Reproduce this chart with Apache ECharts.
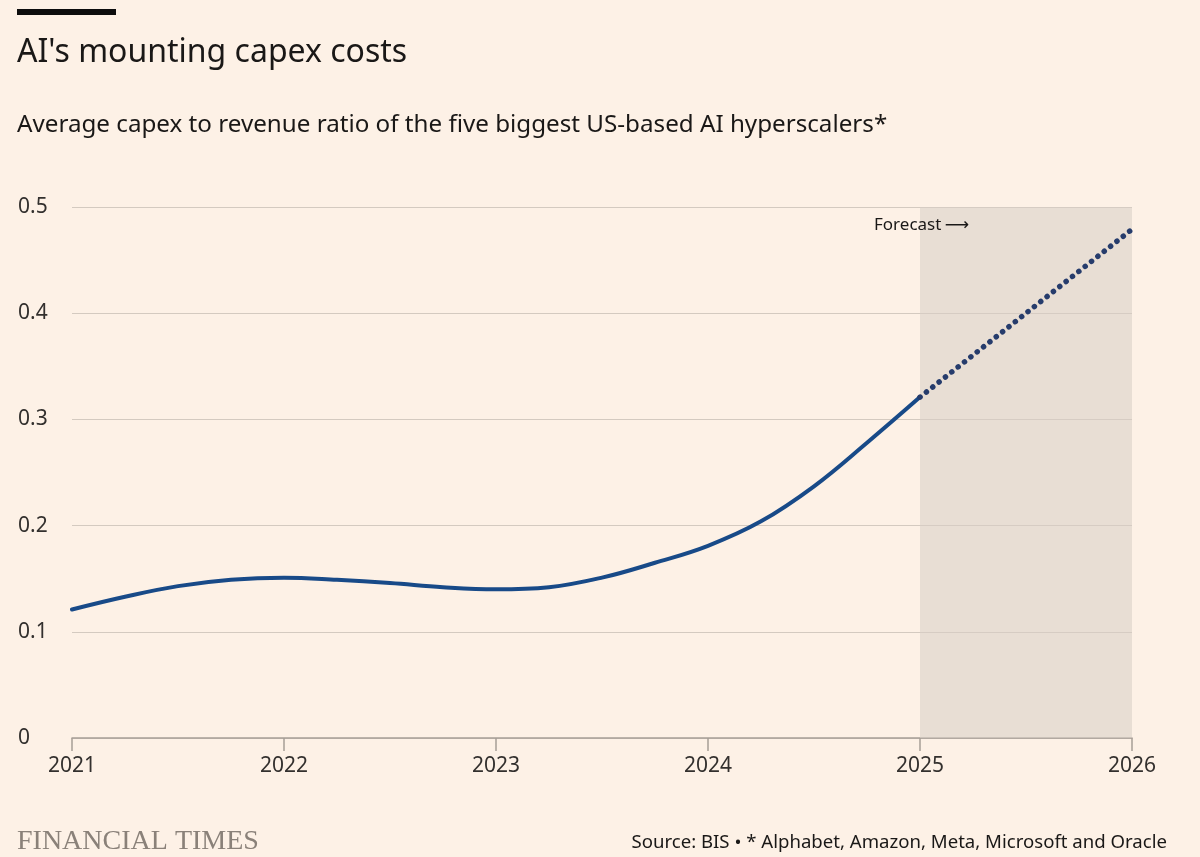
<!DOCTYPE html>
<html>
<head>
<meta charset="utf-8">
<script src="https://cdn.jsdelivr.net/npm/echarts@6/dist/echarts.min.js"></script>
<style>
  html, body { margin: 0; padding: 0; background: #fdf1e6; }
  #chart { width: 1200px; height: 857px; }
</style>
</head>
<body>
<div id="chart"></div>
<script>
// capex / revenue ratio (quarterly steps)
var years = [2021, 2021.25, 2021.5, 2021.75, 2022, 2022.25, 2022.5, 2022.75, 2023,
             2023.25, 2023.5, 2023.75, 2024, 2024.25, 2024.5, 2024.75, 2025]
var ratio = [0.121, 0.133, 0.143, 0.149, 0.151, 0.149, 0.146, 0.142, 0.140,
             0.142, 0.151, 0.165, 0.181, 0.204, 0.237, 0.278, 0.321]
var forecastYears = [2025, 2026]
var forecastRatio = [0.321, 0.479]
var yTicks = [0, 0.1, 0.2, 0.3, 0.4, 0.5]

var font = '"Noto Sans", sans-serif'
var ink = '#33302e'

var myChart = echarts.init(document.getElementById('chart'))

var option = {
  backgroundColor: '#fdf1e6',
  animation: false,
  grid: { left: 72, right: 68, top: 207, bottom: 119 },
  xAxis: {
    type: 'value',
    min: 2021, max: 2026, interval: 1,
    axisLine: { show: true, lineStyle: { color: '#a79f97', width: 1.5 } },
    axisTick: { show: true, length: 13, lineStyle: { color: '#a79f97', width: 1.5 } },
    splitLine: { show: false },
    axisLabel: { color: ink, fontSize: 21, fontFamily: font, margin: 18, formatter: function (v) { return String(v) } }
  },
  yAxis: {
    type: 'value',
    min: 0, max: 0.5, interval: 0.1,
    axisLine: { show: false },
    axisTick: { show: false },
    splitLine: { lineStyle: { color: '#d4cac0', width: 1 } },
    axisLabel: {
      color: ink, fontSize: 21, fontFamily: font, align: 'left', margin: 54,
      formatter: function (v) { return yTicks.indexOf(Math.round(v * 10) / 10) >= 0 ? (v === 0 ? '0' : v.toFixed(1)) : '' }
    }
  },
  series: [
    {
      type: 'line',
      data: years.map(function (y, i) { return [y, ratio[i]] }),
      smooth: 0.4,
      showSymbol: false,
      lineStyle: { color: '#184a88', width: 4, cap: 'round' },
      markArea: {
        silent: true,
        itemStyle: { color: 'rgba(215,205,196,0.55)' },
        data: [[{ xAxis: 2025, yAxis: 0 }, { xAxis: 2026, yAxis: 0.5 }]]
      },
      z: 3
    },
    {
      type: 'line',
      data: forecastYears.map(function (y, i) { return [y, forecastRatio[i]] }),
      showSymbol: false,
      lineStyle: { color: '#263c6c', width: 5.5, type: [0.1, 8], cap: 'round' },
      z: 3
    }
  ],
  graphic: {
    elements: [
      { type: 'rect', left: 17, top: 9, shape: { width: 99, height: 6 }, style: { fill: '#0d0d0d' } },
      { type: 'text', left: 17, top: 37, style: { text: "AI's mounting capex costs", fill: '#1a1817', font: '32px ' + font } },
      { type: 'text', left: 17, top: 113, style: { text: 'Average capex to revenue ratio of the five biggest US-based AI hyperscalers*', fill: '#1a1817', font: '24.2px ' + font } },
      {
        type: 'text', left: 874, top: 217, z: 100,
        style: {
          text: '{t|Forecast} {a|\u27F6}',
          rich: {
            t: { fill: '#1a1817', font: '17px ' + font },
            a: { fill: '#1a1817', font: '17px "DejaVu Sans", sans-serif' }
          }
        }
      },
      { type: 'text', left: 17, top: 828, style: { text: 'FINANCIAL TIMES', fill: '#8a8179', font: '28px "Liberation Serif", "DejaVu Serif", serif' } },
      { type: 'text', right: 33, top: 833, style: { text: 'Source: BIS \u2022 * Alphabet, Amazon, Meta, Microsoft and Oracle', fill: '#1a1817', font: '18.6px ' + font } }
    ]
  }
}

myChart.setOption(option)
</script>
</body>
</html>
